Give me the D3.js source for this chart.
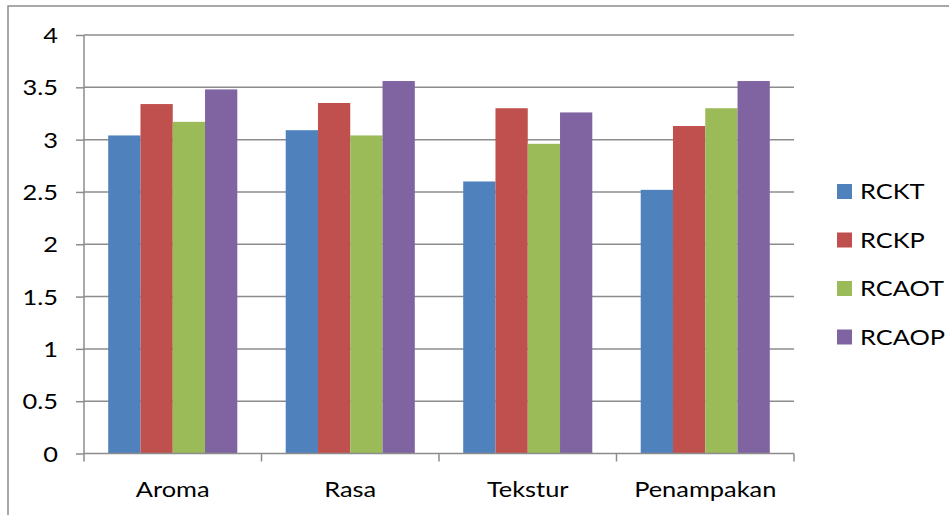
<!DOCTYPE html>
<html>
<head>
<meta charset="utf-8">
<script src="https://cdn.jsdelivr.net/npm/d3@7"></script>
<style>
  body { margin: 0; background: #fff; }
  text { font-family: Lato, "Open Sans", sans-serif; fill: #000; }
</style>
</head>
<body>
<div id="chart"></div>
<script>
// data
var categories = ["Aroma", "Rasa", "Tekstur", "Penampakan"];
var seriesNames = ["RCKT", "RCKP", "RCAOT", "RCAOP"];
var RCKT  = [3.04, 3.09, 2.60, 2.52];
var RCKP  = [3.34, 3.35, 3.30, 3.13];
var RCAOT = [3.17, 3.04, 2.96, 3.30];
var RCAOP = [3.48, 3.56, 3.26, 3.56];
var yTicks = [0, 0.5, 1, 1.5, 2, 2.5, 3, 3.5, 4];

var colors = ["#4f81bd", "#c0504d", "#9bbb59", "#8064a2"];
var values = [RCKT, RCKP, RCAOT, RCAOP];

var width = 949, height = 515;
var plotL = 84, plotR = 794, plotT = 35, plotB = 453.5;
var sx = 1.21; // text is stretched horizontally in the original
var fs = 21;

var svg = d3.select("#chart").append("svg")
    .attr("width", width)
    .attr("height", height);

// outer chart border
svg.append("rect")
    .attr("x", 8).attr("y", 6)
    .attr("width", width).attr("height", height)
    .attr("fill", "none")
    .attr("stroke", "#8c8c8c")
    .attr("stroke-width", 1.5);

var x0 = d3.scaleBand().domain(categories).range([plotL, plotR]);
// gap width 150%: band = 5.5 bars, 0.75 bar of space on each side
var barW = x0.bandwidth() / 5.5;
var x1 = d3.scaleBand().domain(seriesNames)
    .range([barW * 0.75, barW * 4.75]);
var y = d3.scaleLinear().domain([0, 4]).range([plotB, plotT]);

// gridlines
svg.append("g").selectAll("line")
    .data(yTicks.slice(1))
    .enter().append("line")
    .attr("x1", plotL).attr("x2", plotR)
    .attr("y1", function(d) { return y(d); })
    .attr("y2", function(d) { return y(d); })
    .attr("stroke", "#8c8c8c")
    .attr("stroke-width", 1.5);

// bars
var groups = svg.append("g").selectAll("g")
    .data(categories)
    .enter().append("g")
    .attr("transform", function(d) { return "translate(" + x0(d) + ",0)"; });

groups.selectAll("rect")
    .data(function(d, i) { return values.map(function(v, s) { return {s: s, v: v[i]}; }); })
    .enter().append("rect")
    .attr("x", function(d) { return x1(seriesNames[d.s]); })
    .attr("width", x1.bandwidth())
    .attr("y", function(d) { return y(d.v); })
    .attr("height", function(d) { return y(0) - y(d.v); })
    .attr("fill", function(d) { return colors[d.s]; });

// y axis
var yAxis = svg.append("g")
    .attr("transform", "translate(" + plotL + ",0)")
    .call(d3.axisLeft(y).tickValues(yTicks).tickSize(8).tickPadding(0)
      .tickFormat(function(d) { return d; }));
yAxis.select(".domain").attr("stroke", "#8c8c8c").attr("stroke-width", 1.5)
    .attr("d", "M0," + plotT + "V" + plotB);
yAxis.selectAll(".tick line").attr("stroke", "#8c8c8c").attr("stroke-width", 1.5);
yAxis.selectAll(".tick text")
    .attr("font-size", fs)
    .attr("x", null)
    .attr("dy", "0.36em")
    .attr("transform", "translate(-26,0) scale(" + sx + ",1)");

// x axis
var xAxisG = svg.append("g").attr("transform", "translate(0," + plotB + ")");
xAxisG.append("line")
    .attr("x1", plotL).attr("x2", plotR)
    .attr("stroke", "#8c8c8c").attr("stroke-width", 1.5);
xAxisG.selectAll(".xt")
    .data(categories.concat(["end"]))
    .enter().append("line")
    .attr("x1", function(d, i) { return plotL + i * x0.bandwidth(); })
    .attr("x2", function(d, i) { return plotL + i * x0.bandwidth(); })
    .attr("y1", 0).attr("y2", 8)
    .attr("stroke", "#8c8c8c").attr("stroke-width", 1.5);
xAxisG.selectAll("text")
    .data(categories)
    .enter().append("text")
    .attr("text-anchor", "middle")
    .attr("font-size", fs)
    .attr("transform", function(d) {
      return "translate(" + (x0(d) + x0.bandwidth() / 2) + ",43) scale(" + sx + ",1)";
    })
    .text(function(d) { return d; });

// legend
var legend = svg.append("g").selectAll("g")
    .data(seriesNames)
    .enter().append("g")
    .attr("transform", function(d, i) { return "translate(837," + (184 + i * 48.5) + ")"; });
legend.append("rect")
    .attr("width", 15).attr("height", 15)
    .attr("fill", function(d, i) { return colors[i]; });
legend.append("text")
    .attr("font-size", fs)
    .attr("transform", "translate(23,15) scale(" + sx + ",1)")
    .text(function(d) { return d; });
</script>
</body>
</html>
